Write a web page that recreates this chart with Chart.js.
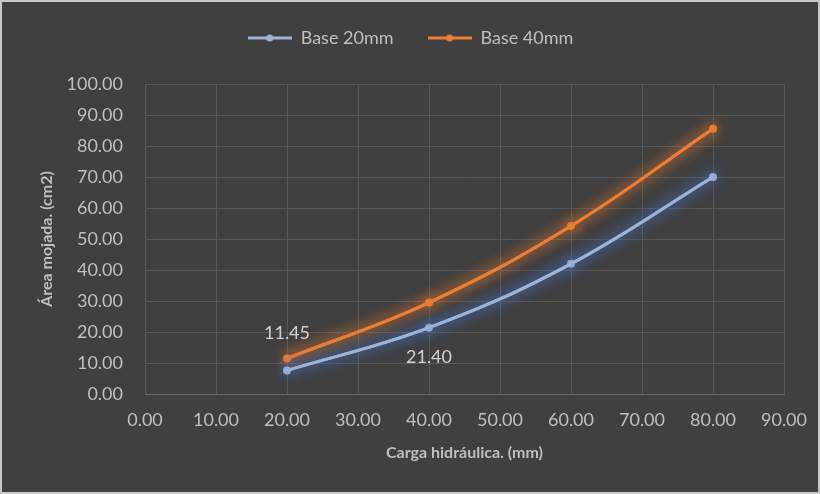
<!DOCTYPE html>
<html>
<head>
<meta charset="utf-8">
<script src="https://cdn.jsdelivr.net/npm/chart.js@4"></script>
<style>
  html, body { margin: 0; padding: 0; background: #d0d0d0; }
  .frame { width: 816px; height: 490px; border: 2px solid #c8c8c8; background: #404040; }
  canvas { display: block; }
</style>
</head>
<body>
<div class="frame"><canvas id="chart" width="816" height="490"></canvas></div>
<script>
// ---- data ----
const xValues = [20, 40, 60, 80];
const base20 = [7.6, 21.40, 42.0, 70.0];
const base40 = [11.45, 29.5, 54.2, 85.6];
const seriesNames = ["Base 20mm", "Base 40mm"];
const xTicks = [0, 10, 20, 30, 40, 50, 60, 70, 80, 90];
const yTicks = [0, 10, 20, 30, 40, 50, 60, 70, 80, 90, 100];

const FONT = "Lato, 'Open Sans', sans-serif";
const TEXT = "#bfbfbf";
const GRID = "#585858";

const lineColors = ["#9db3d9", "#ed7d31"];
const glowColors = ["rgba(68,114,196,1)", "rgba(237,125,49,0.9)"];

// legend marker: short line with a dot in the middle
function legendMarker(color) {
    const c = document.createElement("canvas");
    c.width = 44; c.height = 10;
    const g = c.getContext("2d");
    g.strokeStyle = color; g.lineWidth = 3;
    g.beginPath(); g.moveTo(0, 5); g.lineTo(44, 5); g.stroke();
    g.fillStyle = color;
    g.beginPath(); g.arc(22, 5, 3.5, 0, Math.PI * 2); g.fill();
    return c;
}

// extra room under the legend
const legendSpace = {
    id: "legendSpace",
    beforeInit(chart) {
        const fit = chart.legend.fit;
        chart.legend.fit = function () {
            fit.bind(this)();
            this.height += 27;
        };
    }
};

// glow around each series line (line stroked twice for a stronger halo)
const glowPlugin = {
    id: "glow",
    beforeDatasetDraw(chart, args) {
        const ctx = chart.ctx;
        ctx.save();
        ctx.shadowColor = glowColors[args.index];
        ctx.shadowBlur = 14;
    },
    afterDatasetDraw(chart, args) {
        args.meta.dataset.draw(chart.ctx);
        chart.ctx.restore();
    }
};

// the two value labels shown in the reference
const valueLabels = [
    { dataset: 1, index: 0, dy: -25 },
    { dataset: 0, index: 1, dy: 30 }
];
const labelPlugin = {
    id: "valueLabels",
    afterDatasetsDraw(chart) {
        const ctx = chart.ctx;
        ctx.save();
        ctx.font = "18px " + FONT;
        ctx.fillStyle = "#d0d0d0";
        ctx.textAlign = "center";
        ctx.textBaseline = "middle";
        valueLabels.forEach((l) => {
            const pt = chart.getDatasetMeta(l.dataset).data[l.index];
            const v = chart.data.datasets[l.dataset].data[l.index].y;
            ctx.fillText(v.toFixed(2), pt.x, pt.y + l.dy);
        });
        ctx.restore();
    }
};

const toPoints = (ys) => xValues.map((x, i) => ({ x: x, y: ys[i] }));

new Chart(document.getElementById("chart"), {
    type: "line",
    data: {
        datasets: [base20, base40].map((ys, i) => ({
            label: seriesNames[i],
            data: toPoints(ys),
            borderColor: lineColors[i],
            backgroundColor: lineColors[i],
            borderWidth: 3,
            tension: 0.4,
            pointRadius: 4,
            pointBackgroundColor: lineColors[i],
            pointBorderWidth: 0,
            fill: false
        }))
    },
    options: {
        responsive: false,
        animation: false,
        layout: { padding: { left: 35, right: 34, top: -7, bottom: 30 } },
        plugins: {
            tooltip: { enabled: false },
            legend: {
                position: "top",
                labels: {
                    color: TEXT,
                    font: { size: 18, family: FONT },
                    padding: 34,
                    usePointStyle: true,
                    pointStyleWidth: 44,
                    generateLabels(chart) {
                        return chart.data.datasets.map((ds, i) => ({
                            text: ds.label,
                            fontColor: TEXT,
                            pointStyle: legendMarker(lineColors[i]),
                            datasetIndex: i,
                            lineWidth: 0
                        }));
                    }
                }
            }
        },
        scales: {
            x: {
                type: "linear",
                min: 0, max: 90,
                afterBuildTicks(scale) { scale.ticks = xTicks.map((v) => ({ value: v })); },
                afterFit(scale) {
                    scale.height = 68;
                    scale.paddingLeft = 0;
                    scale.paddingRight = 0;
                },
                ticks: { color: TEXT, font: { size: 18, family: FONT }, padding: 15, maxRotation: 0, callback: (v) => v.toFixed(2) },
                grid: { color: GRID, drawTicks: false },
                border: { color: "#6a6a6a" },
                title: { display: true, text: "Carga hidráulica. (mm)", color: TEXT, font: { size: 16, weight: "bold", family: FONT }, padding: { top: 0, bottom: 0 } }
            },
            y: {
                min: 0, max: 100,
                afterBuildTicks(scale) { scale.ticks = yTicks.map((v) => ({ value: v })); },
                afterFit(scale) { scale.width = 108; },
                ticks: { color: TEXT, font: { size: 18, family: FONT }, padding: 22, callback: (v) => v.toFixed(2) },
                grid: { color: GRID, drawTicks: false },
                border: { display: false },
                title: { display: true, text: "Área mojada. (cm2)", color: TEXT, font: { size: 16, weight: "bold", family: FONT }, padding: { top: 0, bottom: 0 } }
            }
        }
    },
    plugins: [legendSpace, glowPlugin, labelPlugin]
});
</script>
</body>
</html>
